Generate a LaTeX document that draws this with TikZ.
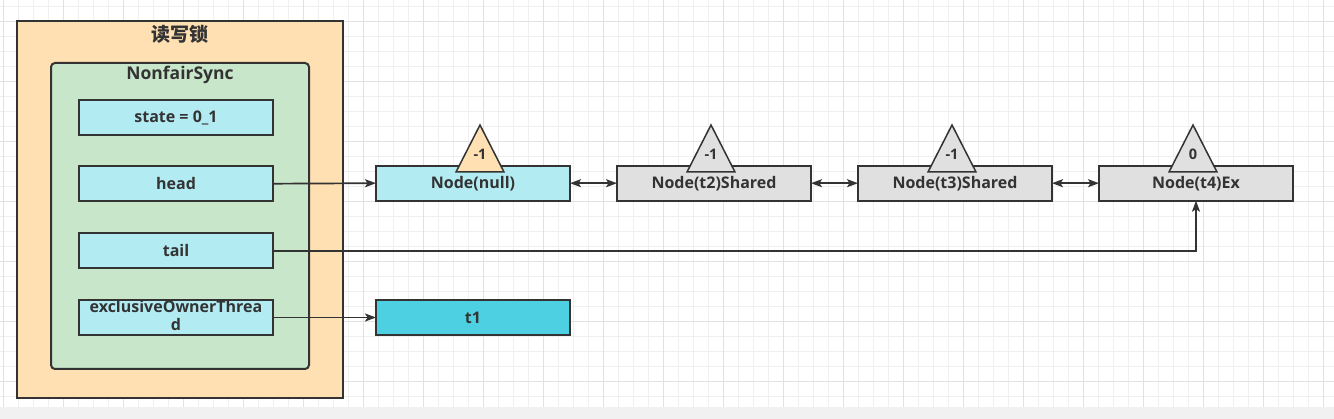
\documentclass[tikz,border=0pt]{standalone}
\usepackage{fontspec}
\setmainfont{Open Sans}
\newfontfamily\cjk{Noto Sans CJK SC}
\usetikzlibrary{arrows.meta}
\definecolor{txt}{HTML}{333333}
\definecolor{bord}{HTML}{333333}
\definecolor{peach}{HTML}{FFE0B2}
\definecolor{mint}{HTML}{C8E6C9}
\definecolor{lcyan}{HTML}{B2EBF2}
\definecolor{dcyan}{HTML}{4DD0E1}
\definecolor{lgray}{HTML}{E0E0E0}
\definecolor{gminor}{HTML}{F0F0F0}
\definecolor{gmajor}{HTML}{E2E2E2}
\definecolor{strip}{HTML}{F1F1F1}
\begin{document}
\begin{tikzpicture}[x=1pt,y=-1pt,
  lbl/.style={text=txt, inner sep=0pt, font=\bfseries\fontsize{16}{19}\selectfont},
  fieldbox/.style={draw=bord, line width=2pt, minimum width=194pt, minimum height=35pt, inner sep=0pt, outer sep=0pt, text=txt, font=\bfseries\fontsize{16}{19}\selectfont},
  tri/.style={draw=bord, line width=1.5pt},
  trilbl/.style={text=txt, inner sep=0pt, font=\bfseries\fontsize{14.5}{16}\selectfont},
  conn/.style={draw=bord, line width=1.7pt},
  tip/.style={-{Stealth[length=11pt,width=8pt,inset=2.5pt]}},
  bitip/.style={{Stealth[length=11pt,width=8pt,inset=2.5pt]}-{Stealth[length=11pt,width=8pt,inset=2.5pt]}}
]
\useasboundingbox (0,0) rectangle (1334,419);
% background
\fill[white] (0,0) rectangle (1334,407);
\fill[strip] (0,407) rectangle (1334,419);
\foreach \i in {0,...,88} { \draw[gminor, line width=1pt] ({3.3+15*\i},0) -- ({3.3+15*\i},407); }
\foreach \j in {0,...,26} { \draw[gminor, line width=1pt] (0,{6.7+15*\j}) -- (1334,{6.7+15*\j}); }
\foreach \i in {0,...,22} { \draw[gmajor, line width=1pt] ({3.3+60*\i},0) -- ({3.3+60*\i},407); }
\foreach \j in {0,...,6} { \draw[gmajor, line width=1pt] (0,{21.7+60*\j}) -- (1334,{21.7+60*\j}); }
% containers
\node[draw=bord, fill=peach, line width=2pt, minimum width=326pt, minimum height=377pt, inner sep=0pt] (outer) at (180,209.5) {};
\node[text=txt, inner sep=0pt, font=\cjk\bfseries\fontsize{19}{22}\selectfont] (title) at (180,34) {读写锁};
\node[draw=bord, fill=mint, line width=2pt, rounded corners=4pt, minimum width=258pt, minimum height=306pt, inner sep=0pt] (sync) at (180,216) {};
\node[lbl, font=\bfseries\fontsize{17.5}{20}\selectfont] (synclbl) at (180,75) {NonfairSync};
% fields
\node[fieldbox, fill=lcyan] (state) at (176,117.5) {state = 0\_1};
\node[fieldbox, fill=lcyan] (head) at (176,183.7) {head};
\node[fieldbox, fill=lcyan] (tail) at (176,250.8) {tail};
\node[fieldbox, fill=lcyan] (excl) at (176,317.5) {};
\node[lbl, align=center] (excllbl) at (176,316) {exclusiveOwnerThrea\\[-1pt]d};
% queue
\node[fieldbox, fill=lcyan] (n0) at (473,183.2) {Node(null)};
\node[fieldbox, fill=lgray] (n2) at (714,183.2) {Node(t2)Shared};
\node[fieldbox, fill=lgray] (n3) at (955,183.2) {Node(t3)Shared};
\node[fieldbox, fill=lgray] (n4) at (1196,183.2) {Node(t4)Ex};
\node[fieldbox, fill=dcyan] (t1) at (473,317.5) {t1};
% triangles
\draw[tri, fill=peach] (456,172) -- (480,125) -- (504,172) -- cycle;
\node[trilbl] (w0) at (480,154) {-1};
\draw[tri, fill=lgray] (687,172) -- (711,125) -- (735,172) -- cycle;
\node[trilbl] (w2) at (711,154) {-1};
\draw[tri, fill=lgray] (928,172) -- (952,125) -- (976,172) -- cycle;
\node[trilbl] (w3) at (952,154) {-1};
\draw[tri, fill=lgray] (1169,172) -- (1193,125) -- (1217,172) -- cycle;
\node[trilbl] (w4) at (1193,154) {0};
% connectors
\draw[conn, tip] (head.east) -- (n0.west);
\draw[conn, bitip] (n0.east) -- (n2.west);
\draw[conn, bitip] (n2.east) -- (n3.west);
\draw[conn, bitip] (n3.east) -- (n4.west);
\draw[conn, tip] (tail.east) -| (n4.south);
\draw[conn, tip] (excl.east) -- (t1.west);
\end{tikzpicture}
\end{document}
